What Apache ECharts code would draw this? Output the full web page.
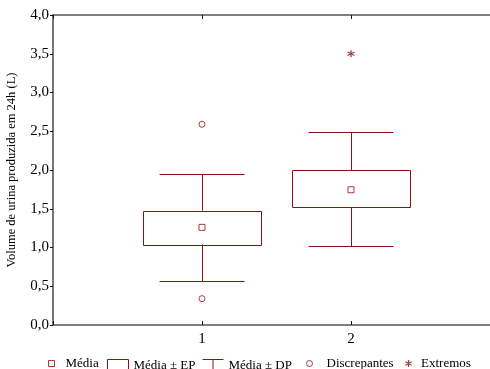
<!DOCTYPE html>
<html>
<head>
<meta charset="utf-8">
<script src="https://cdn.jsdelivr.net/npm/echarts@6/dist/echarts.min.js"></script>
<style>
  html, body { margin: 0; padding: 0; background: #fff; }
  #chart { width: 490px; height: 369px; }
</style>
</head>
<body>
<div id="chart"></div>
<script>
// ---- data ----
const categories = ['1', '2'];
const groupX = [1, 2];
const means  = [1.26, 1.745];
const seLow  = [1.04, 1.52];
const seHigh = [1.475, 1.995];
const sdLow  = [0.57, 1.02];
const sdHigh = [1.945, 2.485];
const outlierX = [1, 1];
const outlierY = [2.59, 0.34];
const extremeX = [2];
const extremeY = [3.50];
const yTickValues = [0, 0.5, 1, 1.5, 2, 2.5, 3, 3.5, 4];

// ---- styles ----
const RED = '#8B1010';
const AXIS = '#555555';
const FONT = '"Liberation Serif", "Times New Roman", serif';
const BOX_HALF = 0.396;
const CAP_HALF = 0.285;
const ASTERISK = 'path://M5,0 L5,10 M0.7,2.5 L9.3,7.5 M9.3,2.5 L0.7,7.5';
const WHISKER_ICON = 'path://M0,0.5 L21,0.5 M10.5,0.5 L10.5,12';

const boxData = groupX.map((x, i) => [x, seLow[i], seHigh[i]]);
const whiskData = groupX.map((x, i) => [x, seLow[i], seHigh[i], sdLow[i], sdHigh[i]]);
const meanData = groupX.map((x, i) => [x, means[i]]);
const outlierData = outlierX.map((x, i) => [x, outlierY[i]]);
const extremeData = extremeX.map((x, i) => [x, extremeY[i]]);

const chart = echarts.init(document.getElementById('chart'), null, { renderer: 'canvas' });

function xAxisCfg(pos) {
  return {
    type: 'value', position: pos, min: 0, max: 3, interval: 1,
    axisLine: { show: true, onZero: false, lineStyle: { color: AXIS, width: 1.6 } },
    axisTick: { show: true, inside: true, length: 4, lineStyle: { color: '#111', width: 1 } },
    axisLabel: {
      show: pos === 'bottom', margin: 7, fontFamily: FONT, fontSize: 15, color: '#000',
      formatter: v => { const k = groupX.indexOf(v); return k >= 0 ? categories[k] : ''; }
    },
    splitLine: { show: false }
  };
}

function legendCfg(name, left, icon, w, h, itemStyle, pad) {
  return {
    data: [{ name: name, icon: icon, itemStyle: itemStyle }],
    left: left, top: 357, padding: 0,
    itemWidth: w, itemHeight: h,
    itemStyle: itemStyle,
    selectedMode: false,
    textStyle: { fontFamily: FONT, fontSize: 13, color: '#000', padding: [0, 0, 0, pad] }
  };
}

const option = {
  animation: false,
  backgroundColor: '#fff',
  grid: { left: 53, top: 15, right: -10, bottom: 44, containLabel: false, outerBoundsMode: 'none' },
  xAxis: [xAxisCfg('bottom'), xAxisCfg('top')],
  yAxis: {
    type: 'value', min: 0, max: 4, interval: 0.5,
    name: 'Volume de urina produzida em 24h (L)',
    nameLocation: 'middle', nameGap: 35,
    nameTextStyle: { fontFamily: FONT, fontSize: 12.5, color: '#000' },
    axisLine: { show: true, lineStyle: { color: AXIS, width: 1.6 } },
    axisTick: { show: true, inside: false, length: 3, lineStyle: { color: '#111' } },
    axisLabel: {
      margin: 4, fontFamily: FONT, fontSize: 15, color: '#000',
      formatter: v => (yTickValues.indexOf(v) >= 0 ? v.toFixed(1).replace('.', ',') : '')
    },
    splitLine: { show: false }
  },
  legend: [
    legendCfg('Média', 48, 'rect', 6, 6, { color: '#fff', borderColor: RED, borderWidth: 1 }, 6),
    legendCfg('Média ± EP', 105, 'rect', 21, 12, { color: 'none', borderColor: RED, borderWidth: 1 }, 0),
    legendCfg('Média ± DP', 200, WHISKER_ICON, 21, 12, { color: 'none', borderColor: RED, borderWidth: 1 }, 0),
    legendCfg('Discrepantes', 306, 'circle', 6, 6, { color: '#fff', borderColor: RED, borderWidth: 1 }, 9),
    legendCfg('Extremos', 403, ASTERISK, 7, 7, { color: 'none', borderColor: RED, borderWidth: 1.3 }, 4)
  ],
  series: [
    {
      name: 'Média ± DP', type: 'custom', data: whiskData, silent: true,
      itemStyle: { color: RED, borderColor: RED, borderWidth: 1 },
      renderItem: (params, api) => {
        const x = api.value(0);
        const boxLo = api.coord([x, api.value(1)]);
        const boxHi = api.coord([x, api.value(2)]);
        const lo = api.coord([x, api.value(3)]);
        const hi = api.coord([x, api.value(4)]);
        const capL = api.coord([x - CAP_HALF, api.value(4)])[0];
        const capR = api.coord([x + CAP_HALF, api.value(4)])[0];
        const st = { stroke: RED, lineWidth: 1, fill: null };
        const cx = Math.round(boxHi[0]) + 0.5;
        const yh = Math.round(hi[1]) + 0.5, yl = Math.round(lo[1]) + 0.5;
        return {
          type: 'group',
          children: [
            { type: 'line', shape: { x1: cx, y1: boxHi[1], x2: cx, y2: yh }, style: st },
            { type: 'line', shape: { x1: cx, y1: boxLo[1], x2: cx, y2: yl }, style: st },
            { type: 'line', shape: { x1: capL, y1: yh, x2: capR, y2: yh }, style: st },
            { type: 'line', shape: { x1: capL, y1: yl, x2: capR, y2: yl }, style: st }
          ]
        };
      }
    },
    {
      name: 'Média ± EP', type: 'custom', data: boxData, silent: true,
      itemStyle: { color: RED, borderColor: RED, borderWidth: 1 },
      renderItem: (params, api) => {
        const x = api.value(0);
        const p1 = api.coord([x - BOX_HALF, api.value(2)]);
        const p2 = api.coord([x + BOX_HALF, api.value(1)]);
        return {
          type: 'rect',
          shape: { x: Math.round(p1[0]) + 0.5, y: Math.round(p1[1]) + 0.5,
                   width: Math.round(p2[0] - p1[0]), height: Math.round(p2[1] - p1[1]) },
          style: { fill: 'none', stroke: RED, lineWidth: 1 }
        };
      }
    },
    {
      name: 'Média', type: 'scatter', data: meanData, symbol: 'rect', symbolSize: 6,
      itemStyle: { color: '#fff', borderColor: RED, borderWidth: 1 }, silent: true, z: 5
    },
    {
      name: 'Discrepantes', type: 'scatter', data: outlierData, symbol: 'circle', symbolSize: 6,
      itemStyle: { color: '#fff', borderColor: RED, borderWidth: 1 }, silent: true, z: 5
    },
    {
      name: 'Extremos', type: 'scatter', data: extremeData, symbol: ASTERISK, symbolSize: 7,
      itemStyle: { color: 'none', borderColor: RED, borderWidth: 1.3 }, silent: true, z: 5
    }
  ]
};

chart.setOption(option);
</script>
</body>
</html>
